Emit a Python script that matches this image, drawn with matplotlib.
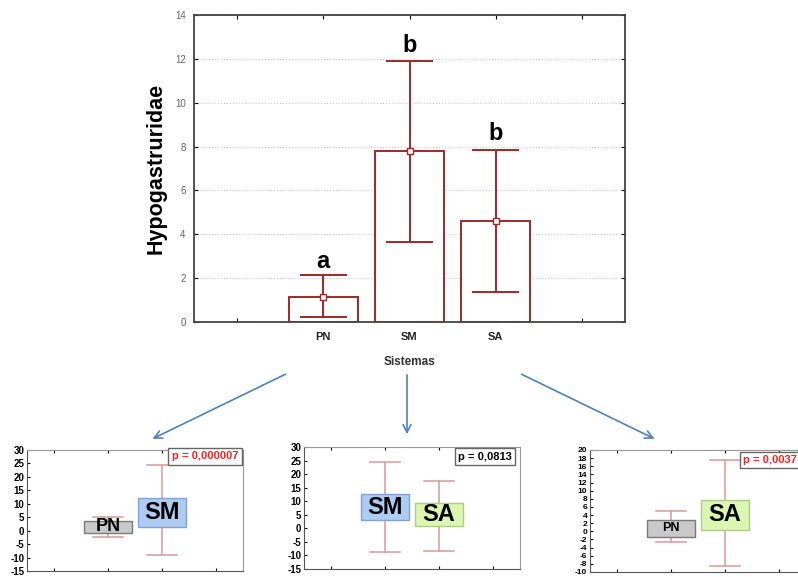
import matplotlib
matplotlib.use('Agg')
import matplotlib.pyplot as plt
from matplotlib.patches import Rectangle, FancyArrowPatch

plt.rcParams['font.family'] = ['Liberation Sans', 'DejaVu Sans']
plt.rcParams['axes.unicode_minus'] = False

# grafico principal: media +- intervalo
sistemas = ['PN', 'SM', 'SA']
medias = [1.15, 7.8, 4.6]
err_sup = [2.15, 11.9, 7.85]
err_inf = [0.25, 3.65, 1.35]
letras = ['a', 'b', 'b']
letras_y = [2.75, 12.6, 8.6]

# comparacoes par a par (caixa e bigodes)
comp1_nomes = ['PN', 'SM']
comp1_min = [-2.5, -9.0]
comp1_max = [5.0, 24.5]
comp1_cx_inf = [-0.7, 1.4]
comp1_cx_sup = [3.5, 12.1]
comp1_p = 'p = 0,000007'

comp2_nomes = ['SM', 'SA']
comp2_min = [-8.8, -8.5]
comp2_max = [24.3, 17.6]
comp2_cx_inf = [3.1, 0.9]
comp2_cx_sup = [12.6, 9.2]
comp2_p = 'p = 0,0813'

comp3_nomes = ['PN', 'SA']
comp3_min = [-2.5, -8.5]
comp3_max = [5.0, 17.6]
comp3_cx_inf = [-1.3, 0.4]
comp3_cx_sup = [2.7, 7.8]
comp3_p = 'p = 0,0037'

cores = {'PN': ('#c9c9c9', '#7a7a7a'), 'SM': ('#aecbf2', '#7fa5d8'), 'SA': ('#dcf5b0', '#a9cf86')}
vermelho = '#a02828'
W, H = 798, 577


def rect_px(x0, y0, x1, y1):
    return [x0 / W, 1 - y1 / H, (x1 - x0) / W, (y1 - y0) / H]


fig = plt.figure(figsize=(7.98, 5.77), dpi=100)

ax = fig.add_axes(rect_px(194, 15, 625, 322))
pos = [1, 2, 3]
ax.bar(pos, medias, width=0.8, facecolor='white', edgecolor=vermelho, linewidth=1.4, zorder=2)
for x, m, lo, hi in zip(pos, medias, err_inf, err_sup):
    ax.plot([x, x], [lo, hi], color=vermelho, lw=1.4, zorder=3)
    ax.plot([x - 0.26, x + 0.26], [lo, lo], color=vermelho, lw=1.4, zorder=3)
    ax.plot([x - 0.26, x + 0.26], [hi, hi], color=vermelho, lw=1.4, zorder=3)
    ax.plot(x, m, 's', ms=4, mfc='white', mec=vermelho, mew=1, zorder=4)
for x, l, ly in zip(pos, letras, letras_y):
    ax.text(x, ly, l, ha='center', va='center', fontsize=17, fontweight='bold')
ax.set_xlim(-0.5, 4.5)
ax.set_ylim(0, 14)
ax.set_xticks([0, 1, 2, 3, 4])
ax.set_xticklabels([''] + sistemas + [''], fontsize=8, fontweight='bold', color='#222222')
ax.set_yticks(range(0, 15, 2))
ax.tick_params(axis='y', labelsize=7, labelcolor='#666666', direction='in', length=3, right=True, pad=6)
ax.tick_params(axis='x', direction='in', length=3, top=True, pad=7)
ax.grid(axis='y', color='#cccccc', linestyle=':', linewidth=0.8, zorder=0)
for s in ax.spines.values():
    s.set_color('#444444')
    s.set_linewidth(1.3)
ax.set_xlabel('Sistemas', fontsize=8.5, fontweight='bold', color='#333333', labelpad=10)
ax.set_ylabel('Hypogastruridae', fontsize=15.5, fontweight='bold', labelpad=6)


def painel(rect, nomes, mins, maxs, cx_inf, cx_sup, ylim, yticks, ptexto, pcor, ppos, pha, fs_nomes, ytick_fs):
    a = fig.add_axes(rect)
    xs = [1, 2]
    for x, n, lo, hi, b0, b1, fs in zip(xs, nomes, mins, maxs, cx_inf, cx_sup, fs_nomes):
        a.plot([x, x], [lo, hi], color='#d99a9a', lw=1.1, zorder=2)
        a.plot([x - 0.28, x + 0.28], [lo, lo], color='#d99a9a', lw=1.1, zorder=2)
        a.plot([x - 0.28, x + 0.28], [hi, hi], color='#d99a9a', lw=1.1, zorder=2)
        fc, ec = cores[n]
        a.add_patch(Rectangle((x - 0.44 + 0.03, b0 - (ylim[1] - ylim[0]) * 0.012), 0.88, b1 - b0,
                              facecolor='#bbbbbb', edgecolor='none', alpha=0.5, zorder=3))
        a.add_patch(Rectangle((x - 0.44, b0), 0.88, b1 - b0, facecolor=fc, edgecolor=ec, lw=1, zorder=4))
        a.text(x, (b0 + b1) / 2, n, ha='center', va='center', fontsize=fs, fontweight='bold', zorder=5)
    a.set_xlim(-0.5, 3.5)
    a.set_ylim(*ylim)
    a.set_yticks(yticks)
    a.set_xticks([0, 1, 2, 3])
    a.set_xticklabels([])
    a.tick_params(axis='y', labelsize=ytick_fs, direction='in', length=2, pad=2)
    a.tick_params(axis='x', direction='in', length=2, top=True, pad=1)
    for lbl in a.get_yticklabels():
        lbl.set_fontweight('bold')
    for s in a.spines.values():
        s.set_color('#999999')
    a.spines['left'].set_color('#555555')
    a.spines['bottom'].set_color('#555555')
    a.text(ppos[0], ppos[1], ptexto, transform=a.transAxes, ha=pha, va='center', fontsize=8,
           fontweight='bold', color=pcor, zorder=6,
           bbox=dict(boxstyle='square,pad=0.3', facecolor='white', edgecolor='#666666', lw=1))
    return a


painel(rect_px(27, 450, 243, 571), comp1_nomes, comp1_min, comp1_max, comp1_cx_inf, comp1_cx_sup,
       (-15, 30), range(-15, 31, 5), comp1_p, '#ff2020', (0.824, 0.947), 'center', [13, 17], 7)
painel(rect_px(304, 447, 520, 569), comp2_nomes, comp2_min, comp2_max, comp2_cx_inf, comp2_cx_sup,
       (-15, 30), range(-15, 31, 5), comp2_p, 'black', (0.838, 0.922), 'center', [17, 17], 7)
painel(rect_px(590, 450, 806, 572), comp3_nomes, comp3_min, comp3_max, comp3_cx_inf, comp3_cx_sup,
       (-10, 20), range(-10, 21, 2), comp3_p, '#ff2020', (0.71, 0.919), 'left', [9, 17], 6)

# setas ligando o grafico principal aos paineis
azul = '#4f81bd'
for (x0, y0), (x1, y1) in [((288, 373), (150, 440)), ((407, 372), (407, 437)), ((519, 373), (657, 440))]:
    fig.add_artist(FancyArrowPatch((x0 / W, 1 - y0 / H), (x1 / W, 1 - y1 / H), transform=fig.transFigure,
                                   arrowstyle='->', mutation_scale=14, color=azul, lw=1.2))

fig.savefig('out.png', dpi=100)
